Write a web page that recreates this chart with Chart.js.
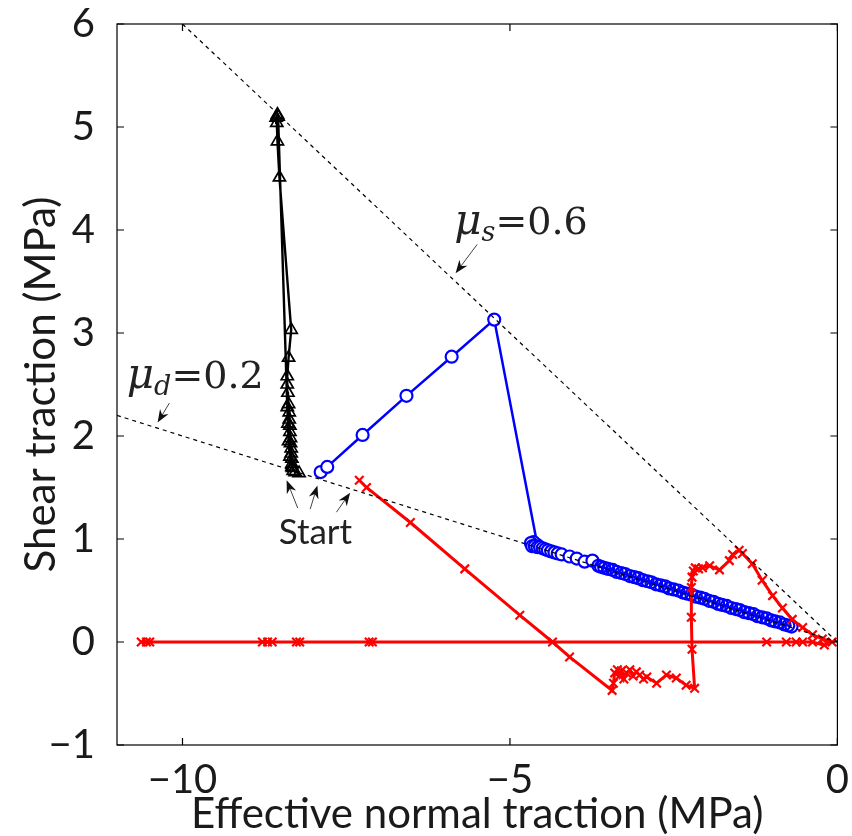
<!DOCTYPE html>
<html>
<head>
<meta charset="UTF-8">
<title>Traction path</title>
<script src="https://cdn.jsdelivr.net/npm/chart.js"></script>
<style>
  body { margin: 0; background: #fff; }
  #wrap { width: 852px; height: 836px; }
</style>
</head>
<body>
<div id="wrap"><canvas id="c" width="852" height="836"></canvas></div>
<script>
// axis ticks
const xTicks = [-10, -5, 0];
const yTicks = [-1, 0, 1, 2, 3, 4, 5, 6];

// friction lines (mu_s = 0.6, mu_d = 0.2)
const muSX = [-10, 0];
const muSY = [6, 0];
const muDX = [-11, 0];
const muDY = [2.2, 0];

// black triangles
const blackX = [-8.31, -8.32, -8.33, -8.33, -8.34, -8.34, -8.35, -8.35, -8.36, -8.36,
  -8.37, -8.37, -8.38, -8.39, -8.40, -8.40, -8.38, -8.34, -8.52, -8.55,
  -8.56, -8.57, -8.55, -8.54, -8.40, -8.39, -8.38, -8.36, -8.33, -8.28, -8.22];
const blackY = [1.66, 1.69, 1.73, 1.78, 1.83, 1.88, 1.93, 1.98, 2.04, 2.10,
  2.16, 2.23, 2.31, 2.42, 2.50, 2.58, 2.76, 3.03, 4.51, 4.86,
  5.04, 5.09, 5.12, 5.10, 2.28, 2.12, 1.95, 1.80, 1.70, 1.65, 1.64];

// blue circles
const blueX = [-7.89, -7.79, -7.25, -6.58, -5.89, -5.24, -4.58, -4.64, -4.68, -4.66,
  -4.62, -4.58, -4.54, -4.50, -4.46, -4.42, -4.37, -4.32, -4.27, -4.21,
  -4.09, -3.98, -3.86, -3.74, -3.65, -3.61, -3.56, -3.50, -3.43, -3.37,
  -3.30, -3.24, -3.17, -3.10, -3.04, -2.97, -2.90, -2.84, -2.77, -2.70,
  -2.63, -2.57, -2.50, -2.43, -2.36, -2.30, -2.23, -2.16, -2.09, -2.03,
  -1.96, -1.89, -1.82, -1.76, -1.69, -1.62, -1.55, -1.49, -1.42, -1.35,
  -1.28, -1.22, -1.15, -1.08, -1.01, -0.95, -0.88, -0.81, -0.75, -0.70];
const blueY = [1.65, 1.70, 2.01, 2.39, 2.77, 3.13, 0.94, 0.97, 0.96, 0.93,
  0.93, 0.92, 0.92, 0.91, 0.90, 0.89, 0.88, 0.87, 0.86, 0.85,
  0.83, 0.81, 0.78, 0.79, 0.74, 0.73, 0.72, 0.71, 0.70, 0.68,
  0.67, 0.66, 0.64, 0.63, 0.62, 0.60, 0.59, 0.58, 0.56, 0.55,
  0.54, 0.52, 0.51, 0.50, 0.48, 0.47, 0.46, 0.44, 0.43, 0.42,
  0.40, 0.39, 0.37, 0.36, 0.35, 0.33, 0.32, 0.31, 0.29, 0.28,
  0.27, 0.25, 0.24, 0.23, 0.21, 0.20, 0.19, 0.17, 0.16, 0.15];

// red crosses
const redX = [-7.30, -7.19, -6.52, -5.69, -4.85, -4.35, -4.09, -3.44, -3.42, -3.40,
  -3.36, -3.33, -3.30, -3.26, -3.22, -3.17, -3.12, -3.07, -3.02, -2.96,
  -2.91, -2.76, -2.61, -2.46, -2.31, -2.18, -2.22, -2.23, -2.23, -2.22,
  -2.20, -2.17, -2.12, -2.06, -1.95, -1.80, -1.65, -1.60, -1.50, -1.45,
  -1.30, -1.15, -0.99, -0.84, -0.69, -0.53, -0.38, -0.23, -0.08, -0.20,
  -0.38, -0.53, -0.63, -0.78, -1.08, -7.10, -7.15, -8.21, -8.26, -8.63,
  -8.70, -8.78, -10.50, -10.55, -10.63];
const redY = [1.57, 1.50, 1.16, 0.71, 0.26, 0.00, -0.145, -0.47, -0.40, -0.30,
  -0.27, -0.33, -0.28, -0.36, -0.30, -0.27, -0.33, -0.29, -0.32, -0.36,
  -0.34, -0.40, -0.32, -0.35, -0.42, -0.45, -0.07, 0.24, 0.53, 0.63,
  0.69, 0.72, 0.71, 0.72, 0.74, 0.70, 0.79, 0.85, 0.89, 0.86,
  0.76, 0.60, 0.45, 0.33, 0.22, 0.14, 0.07, 0.03, 0.00, -0.03,
  0, 0, 0, 0, 0, 0, 0, 0, 0, 0,
  0, 0, 0, 0, 0];

// annotation arrows [fromX, fromY, toX, toY] in data units
const arrows = [
  [-5.50, 3.86, -5.83, 3.58],
  [-10.20, 2.32, -10.38, 2.13],
  [-8.24, 1.30, -8.41, 1.57],
  [-8.05, 1.29, -7.94, 1.52],
  [-7.65, 1.26, -7.44, 1.45]
];

const pts = (xs, ys) => xs.map((x, i) => ({ x: x, y: ys[i] }));
const fmt = v => (v < 0 ? '\u2212' + Math.abs(v) : String(v));
const SANS = 'Lato, "Liberation Sans", sans-serif';
const SERIF = '"DejaVu Serif", "Liberation Serif", serif';

function mathLabel(ctx, px, py, sub, rest) {
  ctx.fillStyle = '#222';
  ctx.textBaseline = 'alphabetic';
  ctx.textAlign = 'left';
  ctx.font = 'italic 42px ' + SERIF;
  ctx.fillText('\u03bc', px, py);
  let w = ctx.measureText('\u03bc').width;
  ctx.font = 'italic 27px ' + SERIF;
  ctx.fillText(sub, px + w, py + 7);
  w += ctx.measureText(sub).width;
  ctx.font = '38px ' + SERIF;
  ctx.fillText(rest, px + w, py);
}

const decor = {
  id: 'decor',
  afterDatasetsDraw(chart) {
    const { ctx, chartArea: a, scales } = chart;
    const sx = scales.x, sy = scales.y;
    ctx.save();
    ctx.strokeStyle = '#000';
    ctx.lineWidth = 1.2;
    ctx.strokeRect(a.left, a.top, a.right - a.left, a.bottom - a.top);
    ctx.beginPath();
    xTicks.forEach(v => {
      const p = sx.getPixelForValue(v);
      ctx.moveTo(p, a.bottom); ctx.lineTo(p, a.bottom - 7);
      ctx.moveTo(p, a.top); ctx.lineTo(p, a.top + 7);
    });
    yTicks.forEach(v => {
      const p = sy.getPixelForValue(v);
      ctx.moveTo(a.left, p); ctx.lineTo(a.left + 7, p);
      ctx.moveTo(a.right, p); ctx.lineTo(a.right - 7, p);
    });
    ctx.stroke();

    // arrows
    arrows.forEach(r => {
      const x0 = sx.getPixelForValue(r[0]), y0 = sy.getPixelForValue(r[1]);
      const x1 = sx.getPixelForValue(r[2]), y1 = sy.getPixelForValue(r[3]);
      const ang = Math.atan2(y1 - y0, x1 - x0);
      const c = Math.cos(ang), s = Math.sin(ang);
      ctx.strokeStyle = '#444';
      ctx.lineWidth = 1;
      ctx.beginPath();
      ctx.moveTo(x0, y0);
      ctx.lineTo(x1 - 8 * c, y1 - 8 * s);
      ctx.stroke();
      ctx.fillStyle = '#111';
      ctx.beginPath();
      ctx.moveTo(x1, y1);
      ctx.lineTo(x1 - 13 * c + 5 * s, y1 - 13 * s - 5 * c);
      ctx.lineTo(x1 - 9 * c, y1 - 9 * s);
      ctx.lineTo(x1 - 13 * c - 5 * s, y1 - 13 * s + 5 * c);
      ctx.closePath();
      ctx.fill();
    });

    // labels
    mathLabel(ctx, sx.getPixelForValue(-5.85), sy.getPixelForValue(3.96), 's', '=0.6');
    mathLabel(ctx, sx.getPixelForValue(-10.85), sy.getPixelForValue(2.47), 'd', '=0.2');
    ctx.fillStyle = '#222';
    ctx.font = '35px ' + SANS;
    ctx.textAlign = 'center';
    ctx.fillText('Start', sx.getPixelForValue(-7.97), sy.getPixelForValue(0.95));
    ctx.restore();
  }
};

new Chart(document.getElementById('c'), {
  type: 'scatter',
  data: {
    datasets: [
      { data: pts(muSX, muSY), showLine: true, borderColor: '#000', borderWidth: 1.2, borderDash: [4, 4], pointRadius: 0 },
      { data: pts(muDX, muDY), showLine: true, borderColor: '#000', borderWidth: 1.2, borderDash: [4, 4], pointRadius: 0 },
      { data: pts(redX, redY), showLine: true, borderColor: '#ff0000', borderWidth: 3,
        pointStyle: 'crossRot', pointRadius: 6, pointBorderWidth: 2.2, pointBorderColor: '#ff0000' },
      { data: pts(blackX, blackY), showLine: true, borderColor: '#000', borderWidth: 2.4,
        pointStyle: 'triangle', pointRadius: 7, pointBorderWidth: 1.7, pointBorderColor: '#000', pointBackgroundColor: 'rgba(255,255,255,0)' },
      { data: pts(blueX, blueY), showLine: true, borderColor: '#0000ff', borderWidth: 2.5,
        pointStyle: 'circle', pointRadius: 6, pointBorderWidth: 2.2, pointBorderColor: '#0000ff',
        pointBackgroundColor: c => (c.dataIndex < 24 ? '#fff' : 'rgba(255,255,255,0)') }
    ]
  },
  options: {
    responsive: false,
    animation: false,
    layout: { padding: { top: 21, right: 6, left: 0, bottom: 0 } },
    plugins: { legend: { display: false }, tooltip: { enabled: false } },
    elements: { line: { tension: 0 } },
    scales: {
      x: {
        type: 'linear', min: -11, max: 0,
        afterBuildTicks: s => { s.ticks = xTicks.map(v => ({ value: v })); },
        afterFit: s => { s.height = 91; },
        grid: { display: false },
        border: { display: false },
        ticks: { callback: fmt, color: '#1a1a1a', font: { family: SANS, size: 40 }, padding: 3, maxRotation: 0, autoSkip: false },
        title: { display: true, text: 'Effective normal traction (MPa)', color: '#1a1a1a', font: { family: SANS, size: 42 }, padding: { top: 0, bottom: -4 } }
      },
      y: {
        type: 'linear', min: -1, max: 6,
        afterBuildTicks: s => { s.ticks = yTicks.map(v => ({ value: v })); },
        afterFit: s => { s.width = 117; },
        grid: { display: false },
        border: { display: false },
        ticks: { callback: fmt, color: '#1a1a1a', font: { family: SANS, size: 40, lineHeight: 0.5 }, padding: 14, autoSkip: false },
        title: { display: true, text: 'Shear traction (MPa)', color: '#1a1a1a', font: { family: SANS, size: 42 }, padding: { top: 16, bottom: 0 } }
      }
    }
  },
  plugins: [decor]
});
</script>
</body>
</html>
